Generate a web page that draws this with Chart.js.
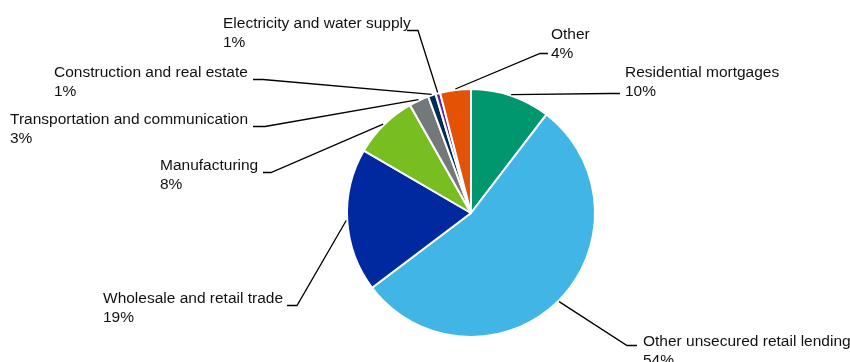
<!DOCTYPE html>
<html>
<head>
<meta charset="utf-8">
<script src="https://cdn.jsdelivr.net/npm/chart.js@4"></script>
<style>
  html, body { margin: 0; padding: 0; background: #fff; }
  #wrap { width: 850px; height: 362px; }
</style>
</head>
<body>
<div id="wrap"><canvas id="c" width="850" height="362"></canvas></div>
<script>
// ---- data ----
const categories = [
  "Residential mortgages",
  "Other unsecured retail lending",
  "Wholesale and retail trade",
  "Manufacturing",
  "Transportation and communication",
  "Construction and real estate",
  "Electricity and water supply",
  "Other"
];
const shares = [10.4, 54.3, 18.7, 8.4, 2.6, 1.0, 0.6, 4.0];
const pctLabels = ["10%", "54%", "19%", "8%", "3%", "1%", "1%", "4%"];

// ---- styling ----
const sliceColors = ["#00966E", "#41B6E6", "#0029A0", "#78BE20", "#75787B", "#002D56", "#5F259F", "#E35205"];

// ---- label layout: text left x, first-line baseline, leader horizontal segment (x1 -> x2 at y)
const labelLayout = [
  { tx: 625, ty: 77,  x1: 620, x2: 610, y: 93 },
  { tx: 643, ty: 346, x1: 637, x2: 627, y: 345 },
  { tx: 103, ty: 303, x1: 287, x2: 297, y: 305 },
  { tx: 160, ty: 170, x1: 263, x2: 271, y: 172 },
  { tx: 10,  ty: 124, x1: 253, x2: 265, y: 126 },
  { tx: 54,  ty: 77,  x1: 253, x2: 263, y: 79 },
  { tx: 223, ty: 28,  x1: 407, x2: 418, y: 30 },
  { tx: 551, ty: 39,  x1: 548, x2: 540, y: 53 }
];
const FONT = '15.5px "Liberation Sans", Arial, sans-serif';
const LINE_H = 18.5;

const leaderPlugin = {
  id: 'leaders',
  afterDatasetsDraw(chart) {
    const ctx = chart.ctx;
    const meta = chart.getDatasetMeta(0);
    ctx.save();
    ctx.strokeStyle = '#000';
    ctx.lineWidth = 1.3;
    ctx.fillStyle = '#111';
    ctx.font = FONT;
    ctx.textBaseline = 'alphabetic';
    ctx.textAlign = 'left';
    meta.data.forEach((arc, i) => {
      const p = arc.getProps(['x', 'y', 'startAngle', 'endAngle', 'outerRadius'], true);
      const mid = (p.startAngle + p.endAngle) / 2;
      const r = p.outerRadius + 1;
      const ax = p.x + Math.cos(mid) * r;
      const ay = p.y + Math.sin(mid) * r;
      const L = labelLayout[i];
      ctx.beginPath();
      ctx.moveTo(L.x1, L.y + 0.5);
      ctx.lineTo(L.x2, L.y + 0.5);
      ctx.lineTo(ax, ay);
      ctx.stroke();
      ctx.fillText(categories[i], L.tx, L.ty);
      ctx.fillText(pctLabels[i], L.tx, L.ty + LINE_H);
    });
    ctx.restore();
  }
};

new Chart(document.getElementById('c'), {
  type: 'pie',
  data: {
    labels: categories,
    datasets: [{
      data: shares,
      backgroundColor: sliceColors,
      borderColor: '#ffffff',
      borderWidth: 2,
      hoverOffset: 0
    }]
  },
  options: {
    responsive: false,
    animation: false,
    devicePixelRatio: 1,
    layout: { padding: { left: 92, top: 88, bottom: 24, right: 0 } },
    plugins: { legend: { display: false }, tooltip: { enabled: false } }
  },
  plugins: [leaderPlugin]
});
</script>
</body>
</html>
